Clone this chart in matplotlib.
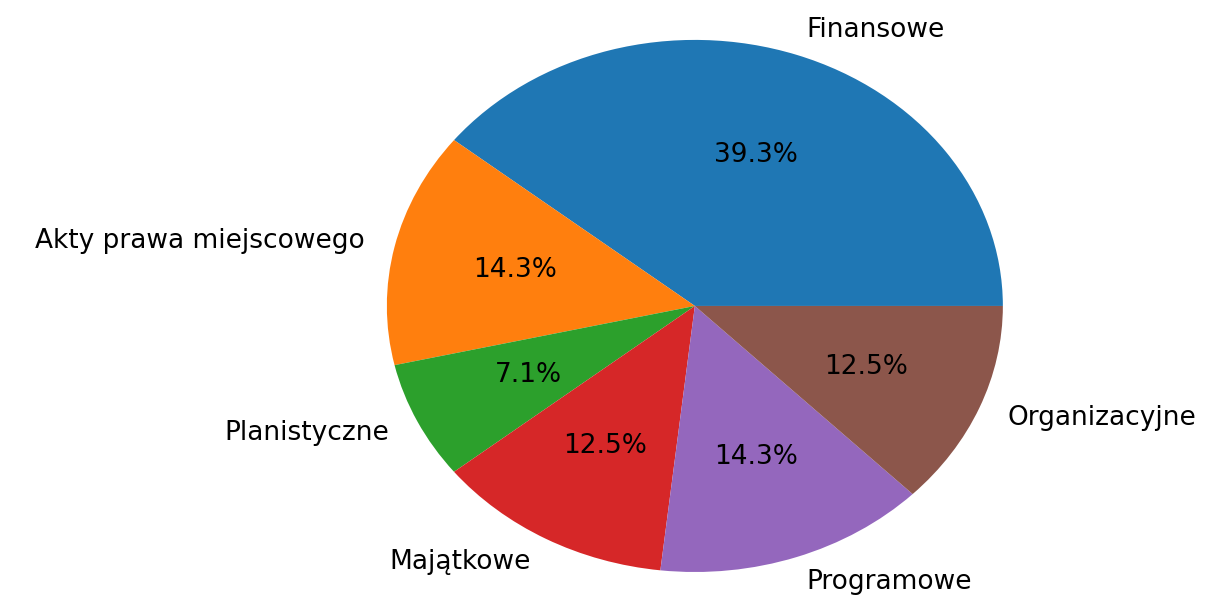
import matplotlib.pyplot as plt

labels = ['Finansowe', 'Akty prawa miejscowego', 'Planistyczne',
          'Majątkowe', 'Programowe', 'Organizacyjne']
counts = [22, 8, 4, 7, 8, 7]

fig = plt.figure(figsize=(12.2, 5.97), dpi=100)
ax = fig.add_axes([0, 0, 1, 1])
ax.pie(counts, labels=labels, autopct='%1.1f%%',
       textprops={'fontsize': 19})
# reference is stretched horizontally, so let the pie become an ellipse
ax.set_aspect('auto')
ax.set_xlim(-2.256, 1.705)
ax.set_ylim(-1.094, 1.150)
ax.axis('off')

fig.savefig('out.png', dpi=100)
